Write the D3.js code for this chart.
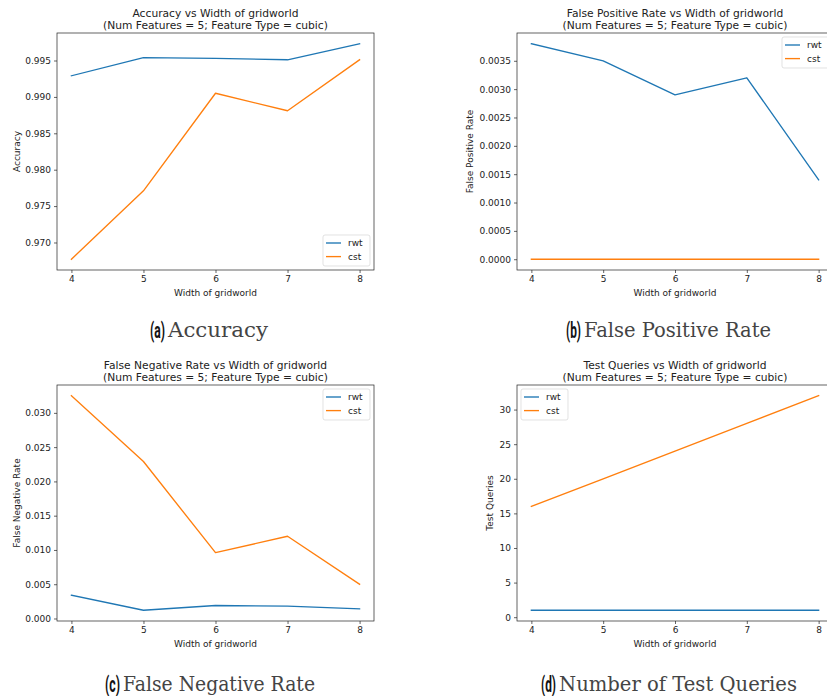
<!DOCTYPE html>
<html>
<head>
<meta charset="utf-8">
<script src="https://cdn.jsdelivr.net/npm/d3@7"></script>
<style>
  html, body { margin: 0; padding: 0; background: #fff; }
  svg { display: block; }
  svg text { font-family: "DejaVu Sans", sans-serif; fill: #222; }
  svg text.tag { font-family: Roboto, "DejaVu Sans", sans-serif; font-weight: bold; fill: #111; }
  svg text.caption { font-family: "DejaVu Serif", serif; font-weight: normal; fill: #444; }
</style>
</head>
<body>
<svg id="fig" width="827" height="696"></svg>
<script>
// Grid widths swept in the experiment
const widths = [4, 5, 6, 7, 8];

// Accuracy
const accuracyRwt = [0.9929, 0.9954, 0.9953, 0.9951, 0.9973];
const accuracyCst = [0.9677, 0.9771, 0.9905, 0.9881, 0.9951];

// False positive rate
const fprRwt = [0.0038, 0.0035, 0.0029, 0.0032, 0.0014];
const fprCst = [0, 0, 0, 0, 0];

// False negative rate
const fnrRwt = [0.0034, 0.0012, 0.0019, 0.0018, 0.0014];
const fnrCst = [0.0325, 0.0229, 0.0096, 0.0120, 0.0050];

// Number of test queries
const queriesRwt = [1, 1, 1, 1, 1];
const queriesCst = [16, 20, 24, 28, 32];

// Tick labels
const xTicks = [4, 5, 6, 7, 8];
const accuracyTicks = [0.970, 0.975, 0.980, 0.985, 0.990, 0.995];
const fprTicks = [0, 0.0005, 0.0010, 0.0015, 0.0020, 0.0025, 0.0030, 0.0035];
const fnrTicks = [0, 0.005, 0.010, 0.015, 0.020, 0.025, 0.030];
const queryTicks = [0, 5, 10, 15, 20, 25, 30];

const seriesNames = ["rwt", "cst"];
const colors = { rwt: "#1f77b4", cst: "#ff7f0e" };
const subtitle = "(Num Features = 5; Feature Type = cubic)";

const panels = [
  { title: "Accuracy vs Width of gridworld", ylabel: "Accuracy",
    rwt: accuracyRwt, cst: accuracyCst, ticks: accuracyTicks, fmt: d3.format(".3f"),
    box: { left: 57, top: 33, right: 374, bottom: 270 }, legend: "lower right",
    tag: "(a)", caption: "Accuracy", cap: { x: 150, y: 337, w: 100 }, ylabelX: 17 },
  { title: "False Positive Rate vs Width of gridworld", ylabel: "False Positive Rate",
    rwt: fprRwt, cst: fprCst, ticks: fprTicks, fmt: d3.format(".4f"),
    box: { left: 517, top: 33, right: 833, bottom: 270 }, legend: "upper right",
    tag: "(b)", caption: "False Positive Rate", cap: { x: 566, y: 337, w: 187 }, ylabelX: 470 },
  { title: "False Negative Rate vs Width of gridworld", ylabel: "False Negative Rate",
    rwt: fnrRwt, cst: fnrCst, ticks: fnrTicks, fmt: d3.format(".3f"),
    box: { left: 57, top: 385, right: 374, bottom: 621 }, legend: "upper right",
    tag: "(c)", caption: "False Negative Rate", cap: { x: 105, y: 691, w: 192 }, ylabelX: 17 },
  { title: "Test Queries vs Width of gridworld", ylabel: "Test Queries",
    rwt: queriesRwt, cst: queriesCst, ticks: queryTicks, fmt: d3.format("d"),
    box: { left: 517, top: 385, right: 833, bottom: 621 }, legend: "upper left",
    tag: "(d)", caption: "Number of Test Queries", cap: { x: 541, y: 691, w: 238 }, ylabelX: 490 }
];

const svg = d3.select("#fig");
const smallFont = 9;
const titleFont = 10.7;

// Padded extent, 5% on each side
function padded(values) {
  const [lo, hi] = d3.extent(values);
  const m = (hi - lo) * 0.05;
  return [lo - m, hi + m];
}

panels.forEach(p => {
  const b = p.box;
  const x = d3.scaleLinear().domain(padded(widths)).range([b.left, b.right]);
  const y = d3.scaleLinear().domain(padded(p.rwt.concat(p.cst))).range([b.bottom, b.top]);

  const g = svg.append("g");

  // Lines
  const line = d3.line().x((d, i) => x(widths[i])).y(d => y(d));
  seriesNames.forEach(name => {
    g.append("path")
      .datum(p[name])
      .attr("d", line)
      .attr("fill", "none")
      .attr("stroke", colors[name])
      .attr("stroke-width", 1.35)
      .attr("stroke-linejoin", "round")
      .attr("stroke-linecap", "square");
  });

  // Axes
  const xAxis = d3.axisBottom(x).tickValues(xTicks).tickSize(3).tickPadding(3).tickFormat(d3.format("d"));
  const yAxis = d3.axisLeft(y).tickValues(p.ticks).tickSize(3).tickPadding(3).tickFormat(p.fmt);

  const gx = g.append("g").attr("transform", `translate(0,${b.bottom})`).call(xAxis);
  const gy = g.append("g").attr("transform", `translate(${b.left},0)`).call(yAxis);
  [gx, gy].forEach(a => {
    a.select(".domain").remove();
    a.selectAll(".tick line").attr("stroke", "#222").attr("stroke-width", 0.7);
    a.selectAll(".tick text").attr("font-size", smallFont);
  });

  // Frame
  g.append("rect")
    .attr("x", b.left).attr("y", b.top)
    .attr("width", b.right - b.left).attr("height", b.bottom - b.top)
    .attr("fill", "none").attr("stroke", "#222").attr("stroke-width", 0.7);

  // Title
  const cx = (b.left + b.right) / 2;
  g.append("text").attr("x", cx).attr("y", b.top - 16.5)
    .attr("text-anchor", "middle").attr("font-size", titleFont).text(p.title);
  g.append("text").attr("x", cx).attr("y", b.top - 4.5)
    .attr("text-anchor", "middle").attr("font-size", titleFont).text(subtitle);

  // Axis labels
  g.append("text").attr("x", cx).attr("y", b.bottom + 26)
    .attr("text-anchor", "middle").attr("font-size", smallFont).text("Width of gridworld");
  g.append("text")
    .attr("transform", `translate(${p.ylabelX},${(b.top + b.bottom) / 2}) rotate(-90)`)
    .attr("text-anchor", "middle").attr("dy", "0.35em").attr("font-size", smallFont).text(p.ylabel);

  // Legend
  const lw = 47, lh = 31;
  let lx, ly;
  if (p.legend === "lower right") { lx = b.right - 4 - lw; ly = b.bottom - 4 - lh; }
  else if (p.legend === "upper right") { lx = b.right - 4 - lw; ly = b.top + 4; }
  else { lx = b.left + 4; ly = b.top + 4; }
  const lg = g.append("g").attr("transform", `translate(${lx},${ly})`);
  lg.append("rect").attr("width", lw).attr("height", lh).attr("rx", 2)
    .attr("fill", "#fff").attr("fill-opacity", 0.8)
    .attr("stroke", "#d6d6d6").attr("stroke-width", 0.7);
  seriesNames.forEach((name, i) => {
    const yy = 8 + i * 13.6;
    lg.append("line").attr("x1", 3).attr("x2", 18).attr("y1", yy).attr("y2", yy)
      .attr("stroke", colors[name]).attr("stroke-width", 1.35);
    lg.append("text").attr("x", 25).attr("y", yy).attr("dy", "0.35em")
      .attr("font-size", smallFont).text(name);
  });

  // Sub-figure caption: narrow bold tag followed by a serif description
  const c = p.cap;
  const tag = svg.append("text").attr("class", "tag")
    .attr("font-size", 22).text(p.tag);
  const natural = tag.node().getComputedTextLength();
  tag.attr("transform", `translate(${c.x},${c.y + 1}) scale(${15 / natural},1)`);
  svg.append("text").attr("class", "caption").attr("x", c.x + 18).attr("y", c.y)
    .attr("font-size", 20)
    .attr("textLength", c.w).attr("lengthAdjust", "spacingAndGlyphs")
    .text(p.caption);
});
</script>
</body>
</html>
